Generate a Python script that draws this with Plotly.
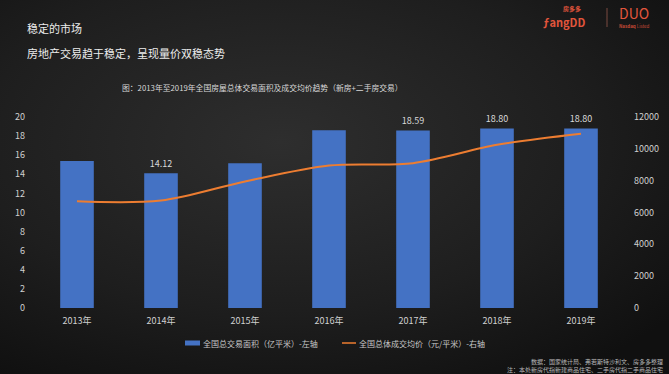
import base64
import plotly.graph_objects as go

years = ["2013年", "2014年", "2015年", "2016年", "2017年", "2018年", "2019年"]
area = [15.4, 14.12, 15.15, 18.62, 18.59, 18.80, 18.80]
area_labels = ["", "14.12", "", "", "18.59", "18.80", "18.80"]
price = [6700, 6750, 7950, 8950, 9100, 10250, 10950]
left_ticks = [0, 2, 4, 6, 8, 10, 12, 14, 16, 18, 20]
right_ticks = [0, 2000, 4000, 6000, 8000, 10000, 12000]
bar_name = "全国总交易面积（亿平米）-左轴"
line_name = "全国总体成交均价（元/平米）-右轴"

W, H = 669, 374
FONT = "Noto Sans CJK SC"
BLUE = "#4472C4"
ORANGE = "#ED7D31"

def px_x(x):
    return x / W

def px_y(y):
    return 1 - y / H

svg = f'''<svg xmlns="http://www.w3.org/2000/svg" width="{W}" height="{H}">
<defs><radialGradient id="g" cx="0.42" cy="0.38" r="0.75">
<stop offset="0" stop-color="#2e2e2e"/><stop offset="0.6" stop-color="#1e1e1e"/><stop offset="1" stop-color="#101010"/>
</radialGradient></defs>
<rect width="{W}" height="{H}" fill="url(#g)"/></svg>'''
bg_src = "data:image/svg+xml;base64," + base64.b64encode(svg.encode()).decode()

fig = go.Figure()
fig.add_trace(go.Bar(
    x=years, y=area, name=bar_name,
    marker=dict(color=BLUE, line=dict(width=0)), width=0.4,
    text=area_labels, textposition="outside", cliponaxis=False,
    textfont=dict(color="#d8d8d8", size=9, family=FONT),
    yaxis="y", showlegend=False,
))
fig.add_trace(go.Scatter(
    x=years, y=price, name=line_name,
    mode="lines", line=dict(color=ORANGE, width=2, shape="spline", smoothing=0.9),
    yaxis="y2", showlegend=False,
))

xd = [px_x(35), px_x(623)]
yd = [px_y(308), px_y(117)]
tickfont = dict(color="#d0d0d0", size=9, family=FONT)

fig.update_layout(
    width=W, height=H,
    margin=dict(l=0, r=0, t=0, b=0, autoexpand=False),
    paper_bgcolor="#181818", plot_bgcolor="rgba(0,0,0,0)",
    font=dict(family=FONT, color="#d0d0d0"),
    xaxis=dict(domain=xd, range=[-0.5, 6.5], showgrid=False, zeroline=False,
               showline=False, ticks="", tickfont=tickfont, ticklabelstandoff=6),
    yaxis=dict(domain=yd, range=[0, 20], tickvals=left_ticks, showgrid=False,
               zeroline=False, showline=False, ticks="", tickfont=tickfont,
               ticklabelstandoff=9),
    yaxis2=dict(domain=yd, range=[0, 12000], tickvals=right_ticks, tickformat="d",
                overlaying="y", side="right", showgrid=False, zeroline=False,
                showline=False, ticks="", tickfont=tickfont, ticklabelstandoff=10,
                anchor="x"),
    images=[dict(source=bg_src, xref="paper", yref="paper", x=0, y=1, sizex=1, sizey=1,
                 sizing="stretch", layer="below", xanchor="left", yanchor="top")],
)

anns = [
    dict(text="稳定的市场", x=px_x(25), y=px_y(28), size=11, color="#ececec", xanchor="left"),
    dict(text="房地产交易趋于稳定，呈现量价双稳态势", x=px_x(25), y=px_y(53), size=11, color="#ececec", xanchor="left"),
    dict(text="图：2013年至2019年全国房屋总体交易面积及成交均价趋势（新房+二手房交易）",
         x=px_x(120), y=px_y(87), size=7.8, color="#d8d8d8", xanchor="left"),
    dict(text="数据：国家统计局、弗若斯特沙利文、房多多整理", x=px_x(665), y=px_y(361), size=6,
         color="#b8b8b8", xanchor="right"),
    dict(text="注：本处新房代指新建商品住宅、二手房代指二手商品住宅", x=px_x(665), y=px_y(369), size=6,
         color="#b8b8b8", xanchor="right"),
    # legend texts
    dict(text=bar_name, x=px_x(201), y=px_y(343), size=8, color="#c8c8c8", xanchor="left"),
    dict(text=line_name, x=px_x(357), y=px_y(343), size=8, color="#c8c8c8", xanchor="left"),
    # logo
    dict(text="<b>房多多</b>", x=px_x(572), y=px_y(8.5), size=6, color="#e2553c", xanchor="center"),
    dict(text="<b>ƒangDD</b>", x=px_x(564), y=px_y(22), size=11, color="#e2553c", xanchor="center"),
    dict(text="DUO", x=px_x(634), y=px_y(13), size=14, color="#e2553c", xanchor="center"),
    dict(text="<b>Nasdaq</b> Listed", x=px_x(634), y=px_y(26), size=4.5, color="#c84a36", xanchor="center"),
]
fig.update_layout(annotations=[
    dict(text=a["text"], x=a["x"], y=a["y"], xref="paper", yref="paper", showarrow=False,
         xanchor=a["xanchor"], yanchor="middle",
         font=dict(size=a["size"], color=a["color"], family=FONT))
    for a in anns
])
# logo separator
fig.add_shape(type="line", xref="paper", yref="paper", x0=px_x(607), x1=px_x(607),
              y0=px_y(8), y1=px_y(27), line=dict(color="#7a4a40", width=1))
# legend keys
fig.add_shape(type="rect", xref="paper", yref="paper", x0=px_x(185), x1=px_x(200),
              y0=px_y(345.5), y1=px_y(340.5), fillcolor=BLUE, line=dict(width=0))
fig.add_shape(type="line", xref="paper", yref="paper", x0=px_x(342), x1=px_x(356),
              y0=px_y(343), y1=px_y(343), line=dict(color=ORANGE, width=1.5))

fig.write_html("out.html", config={"displayModeBar": False},
               post_script="document.body.style.margin='0px';")
